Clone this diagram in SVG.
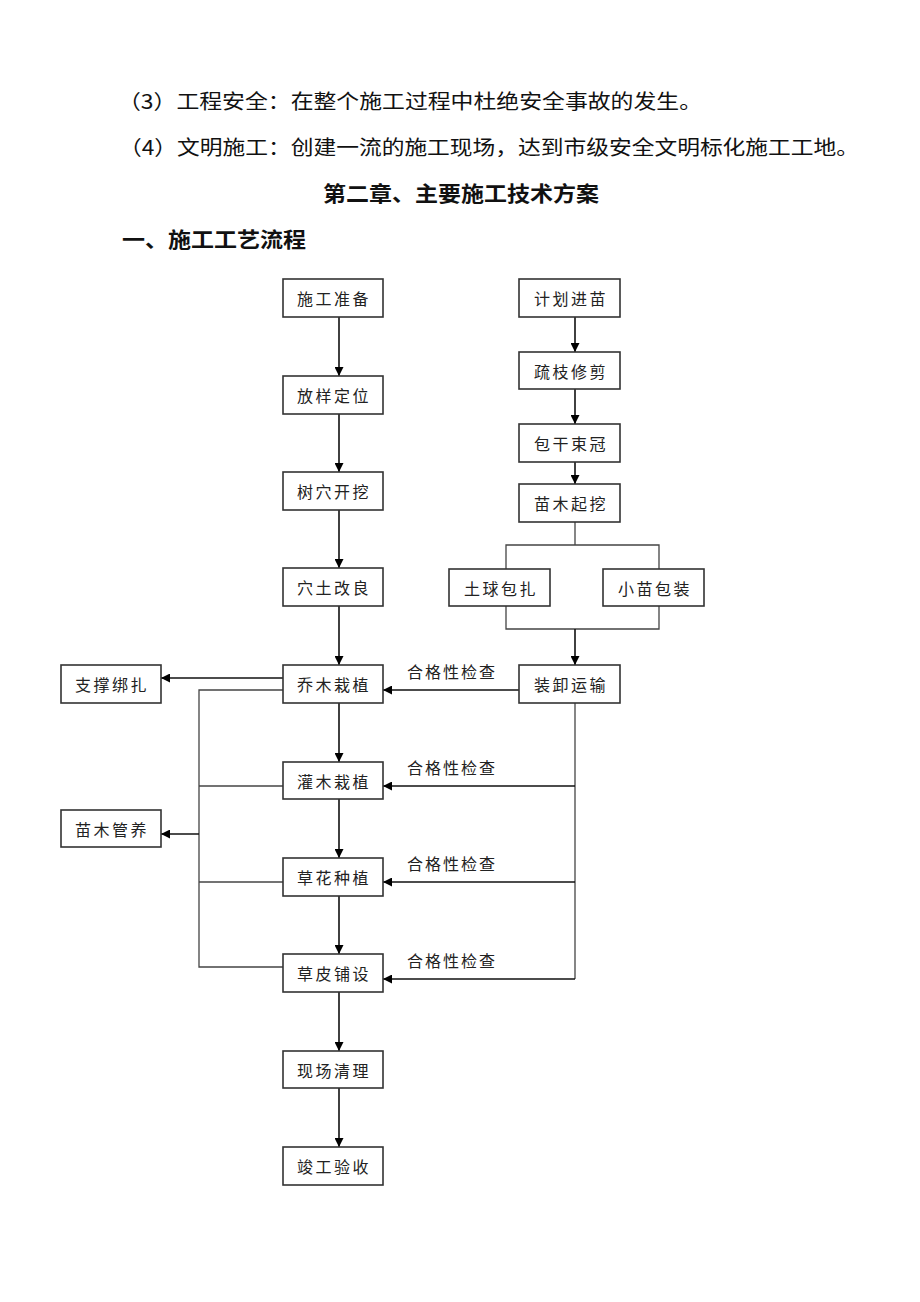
<svg xmlns="http://www.w3.org/2000/svg" width="920" height="1302" viewBox="0 0 920 1302">
<style>
.bx{fill:#fff;stroke:#333;stroke-width:1.6}
.bt{font-family:"Noto Sans CJK SC","Noto Sans",sans-serif;font-size:16px;letter-spacing:2.5px;fill:#222;text-anchor:middle;dominant-baseline:central}
.lb{font-family:"Noto Sans CJK SC","Noto Sans",sans-serif;font-size:16px;letter-spacing:2px;fill:#222}
.body{font-family:"Noto Sans CJK SC","Noto Sans",sans-serif;font-size:20px;fill:#111}
.hd{font-family:"Noto Sans CJK SC","Noto Sans",sans-serif;font-size:21px;font-weight:bold;fill:#111}
.ln{fill:none;stroke:#111;stroke-width:1.6}
.gl{fill:none;stroke:#444;stroke-width:1.3}
</style>
<defs>
<marker id="ah" viewBox="0 0 10 10" refX="10" refY="5" markerWidth="10" markerHeight="9" markerUnits="userSpaceOnUse" orient="auto">
<path d="M0,0 L10,5 L0,10 z" fill="#000"/>
</marker>
</defs>
<rect width="920" height="1302" fill="#fff"/>
<g id="texts">
<text class="body" x="118" y="109" textLength="584" lengthAdjust="spacingAndGlyphs">（3）工程安全：在整个施工过程中杜绝安全事故的发生。</text>
<text class="body" x="119" y="155" textLength="740" lengthAdjust="spacingAndGlyphs">（4）文明施工：创建一流的施工现场，达到市级安全文明标化施工工地。</text>
<text class="hd" x="323" y="201" textLength="276" lengthAdjust="spacingAndGlyphs">第二章、主要施工技术方案</text>
<text class="hd" x="122" y="247" textLength="184" lengthAdjust="spacingAndGlyphs">一、施工工艺流程</text>
</g>
<g id="connectors">
<line class="ln" x1="339" y1="317" x2="339" y2="376" marker-end="url(#ah)"/>
<line class="ln" x1="339" y1="414" x2="339" y2="472" marker-end="url(#ah)"/>
<line class="ln" x1="339" y1="510" x2="339" y2="568" marker-end="url(#ah)"/>
<line class="ln" x1="339" y1="606" x2="339" y2="665" marker-end="url(#ah)"/>
<line class="ln" x1="339" y1="703" x2="339" y2="762" marker-end="url(#ah)"/>
<line class="ln" x1="339" y1="799" x2="339" y2="858" marker-end="url(#ah)"/>
<line class="ln" x1="339" y1="896" x2="339" y2="954" marker-end="url(#ah)"/>
<line class="ln" x1="339" y1="992" x2="339" y2="1051" marker-end="url(#ah)"/>
<line class="ln" x1="339" y1="1088" x2="339" y2="1147" marker-end="url(#ah)"/>
<line class="ln" x1="575" y1="317" x2="575" y2="352" marker-end="url(#ah)"/>
<line class="ln" x1="575" y1="389" x2="575" y2="424" marker-end="url(#ah)"/>
<line class="ln" x1="575" y1="462" x2="575" y2="484" marker-end="url(#ah)"/>
<line class="gl" x1="575" y1="522" x2="575" y2="545"/>
<polyline class="gl" points="506,569 506,545 659,545 659,569"/>
<polyline class="gl" points="506,606 506,629 659,629 659,606"/>
<line class="ln" x1="575" y1="629" x2="575" y2="665" marker-end="url(#ah)"/>
<line class="ln" x1="519" y1="690" x2="383" y2="690" marker-end="url(#ah)"/>
<line class="gl" x1="575" y1="703" x2="575" y2="979"/>
<line class="ln" x1="575" y1="786" x2="383" y2="786" marker-end="url(#ah)"/>
<line class="ln" x1="575" y1="882" x2="383" y2="882" marker-end="url(#ah)"/>
<line class="ln" x1="575" y1="979" x2="383" y2="979" marker-end="url(#ah)"/>
<line class="ln" x1="283" y1="678" x2="161" y2="678" marker-end="url(#ah)"/>
<polyline class="gl" points="283,690 199,690 199,967 283,967"/>
<line class="gl" x1="199" y1="786" x2="283" y2="786"/>
<line class="gl" x1="199" y1="882" x2="283" y2="882"/>
<line class="ln" x1="199" y1="834" x2="161" y2="834" marker-end="url(#ah)"/>
<text class="lb" x="407" y="678">合格性检查</text>
<text class="lb" x="407" y="774">合格性检查</text>
<text class="lb" x="407" y="870">合格性检查</text>
<text class="lb" x="407" y="967">合格性检查</text>
</g>
<g id="n1"><rect class="bx" x="283" y="279" width="100" height="38"/><text class="bt" x="334" y="298">施工准备</text></g>
<g id="n2"><rect class="bx" x="283" y="376" width="100" height="38"/><text class="bt" x="334" y="395">放样定位</text></g>
<g id="n3"><rect class="bx" x="283" y="472" width="100" height="38"/><text class="bt" x="334" y="491">树穴开挖</text></g>
<g id="n4"><rect class="bx" x="283" y="568" width="100" height="38"/><text class="bt" x="334" y="587">穴土改良</text></g>
<g id="n5"><rect class="bx" x="283" y="665" width="100" height="38"/><text class="bt" x="334" y="684">乔木栽植</text></g>
<g id="n6"><rect class="bx" x="283" y="762" width="100" height="37"/><text class="bt" x="334" y="781">灌木栽植</text></g>
<g id="n7"><rect class="bx" x="283" y="858" width="100" height="38"/><text class="bt" x="334" y="877">草花种植</text></g>
<g id="n8"><rect class="bx" x="283" y="954" width="100" height="38"/><text class="bt" x="334" y="973">草皮铺设</text></g>
<g id="n9"><rect class="bx" x="283" y="1051" width="100" height="37"/><text class="bt" x="334" y="1070">现场清理</text></g>
<g id="n10"><rect class="bx" x="283" y="1147" width="100" height="38"/><text class="bt" x="334" y="1166">竣工验收</text></g>
<g id="r1"><rect class="bx" x="519" y="279" width="101" height="38"/><text class="bt" x="571" y="298">计划进苗</text></g>
<g id="r2"><rect class="bx" x="519" y="352" width="101" height="37"/><text class="bt" x="571" y="371">疏枝修剪</text></g>
<g id="r3"><rect class="bx" x="519" y="424" width="101" height="38"/><text class="bt" x="571" y="443">包干束冠</text></g>
<g id="r4"><rect class="bx" x="519" y="484" width="101" height="38"/><text class="bt" x="571" y="503">苗木起挖</text></g>
<g id="r5"><rect class="bx" x="449" y="569" width="101" height="37"/><text class="bt" x="501" y="588">土球包扎</text></g>
<g id="r6"><rect class="bx" x="603" y="569" width="101" height="37"/><text class="bt" x="655" y="588">小苗包装</text></g>
<g id="r7"><rect class="bx" x="519" y="665" width="101" height="38"/><text class="bt" x="571" y="684">装卸运输</text></g>
<g id="l1"><rect class="bx" x="61" y="665" width="100" height="38"/><text class="bt" x="112" y="684">支撑绑扎</text></g>
<g id="l2"><rect class="bx" x="61" y="810" width="100" height="37"/><text class="bt" x="112" y="829">苗木管养</text></g>
</svg>
